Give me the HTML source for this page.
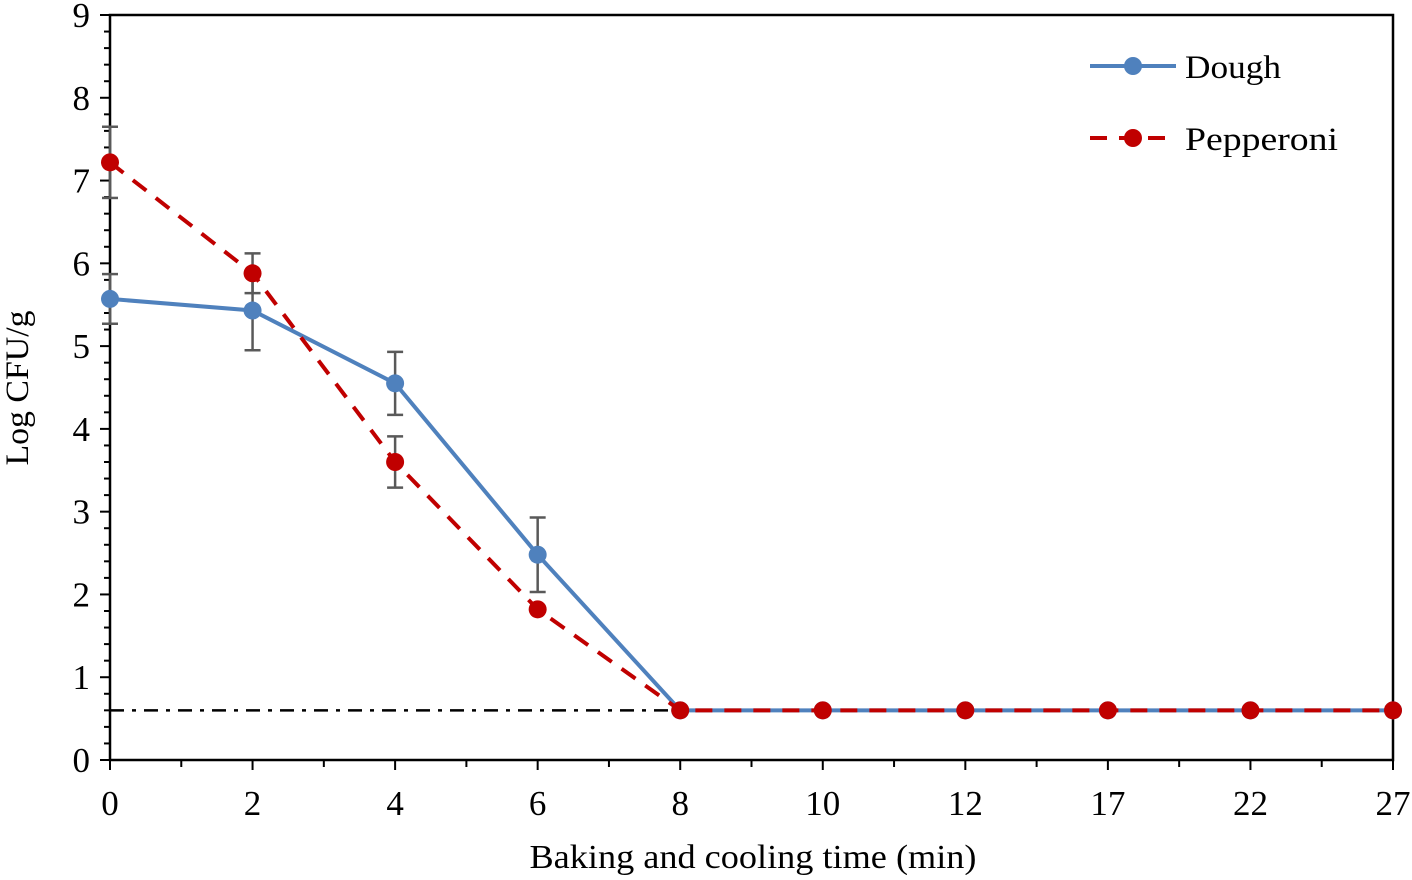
<!DOCTYPE html>
<html><head><meta charset="utf-8"><style>
body{margin:0;background:#fff;}
svg text{font-family:"Liberation Serif",serif;fill:#000;}
</style></head><body>
<svg id="chart" width="1412" height="875" xmlns="http://www.w3.org/2000/svg">
<defs><filter id="sh" x="-5%" y="-200%" width="110%" height="500%"><feGaussianBlur stdDeviation="2.5"/></filter></defs>
<g id="axes"></g>
<g id="marks"></g>
<text transform="translate(28,388) rotate(-90)" text-anchor="middle" font-size="33" textLength="155" lengthAdjust="spacingAndGlyphs">Log CFU/g</text>
<text x="753" y="868" text-anchor="middle" font-size="34" textLength="447" lengthAdjust="spacingAndGlyphs">Baking and cooling time (min)</text>
<g>
<g>
<line x1="1090" y1="66" x2="1176" y2="66" stroke="#4f81bd" stroke-width="4"/><circle cx="1133" cy="66" r="9" fill="#4f81bd"/>
<text x="1185" y="78" font-size="33" textLength="96" lengthAdjust="spacingAndGlyphs">Dough</text></g>
<g>
<line x1="1090" y1="138" x2="1176" y2="138" stroke="#c00000" stroke-width="4" stroke-dasharray="17,12"/><circle cx="1133" cy="138" r="9" fill="#c00000"/>
<text x="1185" y="150" font-size="33" textLength="153" lengthAdjust="spacingAndGlyphs">Pepperoni</text></g>
</g>
</svg>
<script>
const categories=["0","2","4","6","8","10","12","17","22","27"];
const yTicks=[0,1,2,3,4,5,6,7,8,9];
const dough=[5.57,5.43,4.55,2.48,0.6,0.6,0.6,0.6,0.6,0.6];
const doughErr=[0.3,0.48,0.38,0.45,0,0,0,0,0,0];
const pepperoni=[7.22,5.88,3.6,1.82,0.6,0.6,0.6,0.6,0.6,0.6];
const pepperoniErr=[0.43,0.24,0.31,0,0,0,0,0,0,0];
const detectionLimit=0.6;
const NS="http://www.w3.org/2000/svg";
const X0=110,X1=1393,Y0=760,Y1=15;
const xs=i=>X0+i*(X1-X0)/(categories.length-1);
const ys=v=>Y0-(v/9)*(Y0-Y1);
function mk(p,t,a){const e=document.createElementNS(NS,t);for(const k in a)e.setAttribute(k,a[k]);p.appendChild(e);return e;}
const ax=document.getElementById('axes'),mk2=document.getElementById('marks');
let frame=mk(ax,'rect',{x:X0,y:Y1,width:X1-X0,height:Y0-Y1,fill:'none',stroke:'#000','stroke-width':2.5});


for(let v=0;v<=9.001;v+=0.2){const y=ys(v);const maj=Math.abs(v-Math.round(v))<0.01;
 mk(ax,'line',{x1:X0-(maj?10:6),x2:X0,y1:y,y2:y,stroke:'#000','stroke-width':2});}
yTicks.forEach(v=>{const t=mk(ax,'text',{x:X0-20,y:ys(v)+12,'text-anchor':'end','font-size':35});t.textContent=v;
 
 });
categories.forEach((c,i)=>{mk(ax,'line',{x1:xs(i),x2:xs(i),y1:Y0,y2:Y0+10,stroke:'#000','stroke-width':2});
 if(i<categories.length-1){const xm=(xs(i)+xs(i+1))/2;mk(ax,'line',{x1:xm,x2:xm,y1:Y0,y2:Y0+7,stroke:'#000','stroke-width':2});}
 const t=mk(ax,'text',{x:xs(i),y:Y0+55,'text-anchor':'middle','font-size':35});t.textContent=c;
 
 });
const yl=ys(detectionLimit);
mk(mk2,'line',{x1:X0,x2:X1,y1:yl+5,y2:yl+5,stroke:'#bbb','stroke-width':5,'stroke-dasharray':'14,8,4,8',filter:'url(#sh)'});
let dl=mk(mk2,'line',{x1:X0,x2:X1,y1:yl,y2:yl,stroke:'#000','stroke-width':2.5,'stroke-dasharray':'14,8,4,8'});


function series(vals,err,color,dash,name){
 vals.forEach((v,i)=>{if(err[i]>0){const g=mk(mk2,'g',{stroke:'#595959','stroke-width':2.5});
  
  
  mk(g,'line',{x1:xs(i),x2:xs(i),y1:ys(v-err[i]),y2:ys(v+err[i])});
  [v-err[i],v+err[i]].forEach(e=>mk(g,'line',{x1:xs(i)-8,x2:xs(i)+8,y1:ys(e),y2:ys(e)}));}});
 const p=mk(mk2,'polyline',{points:vals.map((v,i)=>xs(i)+','+ys(v)).join(' '),fill:'none',stroke:color,'stroke-width':4,'stroke-dasharray':dash});
 
 
 vals.forEach((v,i)=>{const c=mk(mk2,'circle',{cx:xs(i),cy:ys(v),r:9,fill:color});
  
  });
}
series(dough,doughErr,'#4f81bd','none','dough');
series(pepperoni,pepperoniErr,'#c00000','17,12','pepperoni');
</script>
</body></html>
